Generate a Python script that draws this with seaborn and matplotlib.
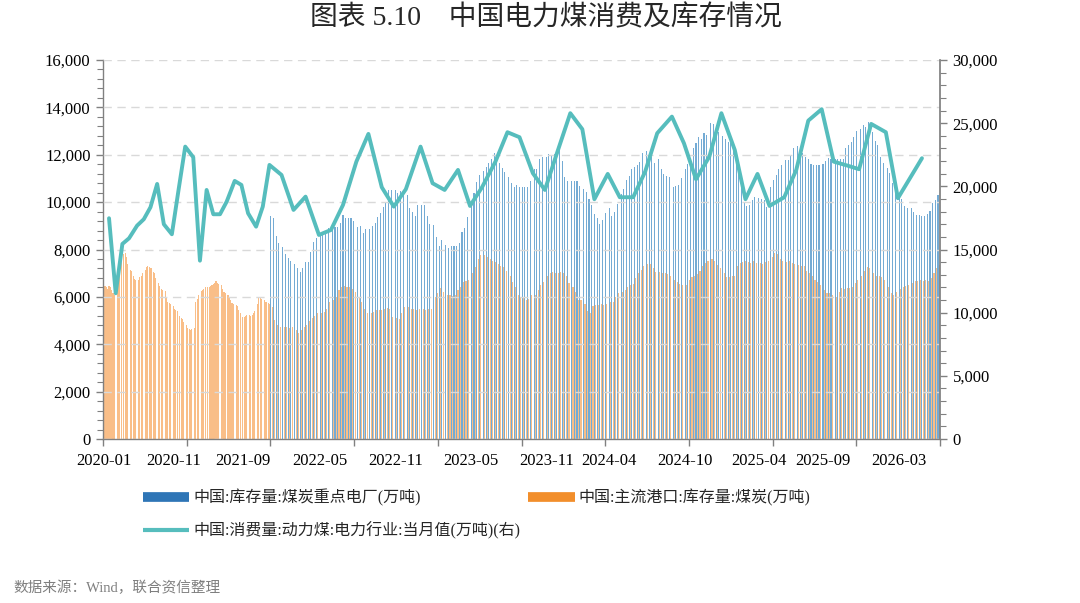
import numpy as np
import pandas as pd
import matplotlib
matplotlib.use("Agg")
import matplotlib.pyplot as plt
import seaborn as sns
from matplotlib.lines import Line2D
from matplotlib.ticker import MultipleLocator, FuncFormatter, FixedLocator

# ---------------- data ----------------
# 中国:主流港口:库存量:煤炭(万吨) — weekly (Fridays) from 2020-01-03
port_start = "2020-01-03"
port_stock = [
    # 2020
    6450, 6450, 6400, 6350, 6450,  6430, 6300, 6150, 6100,  6300, 7000, 7300, 7700,
    7800, 7850, 7700, 7400,  7130, 7100, 6900, 6750, 6710,  6700, 6850, 6900, 7000,
    7150, 7270, 7300, 7250, 7200,  7200, 7060, 7000, 6800,  6580, 6450, 6350, 6290,
    6250, 6000, 5800, 5740, 5700,  5600, 5500, 5450, 5400,  5200, 5100, 5050, 4950,
    # 2021
    4800, 4700, 4650, 4600, 4650,  4700, 5800, 5900, 6100,  6250, 6300, 6350, 6400,
    6430, 6400, 6450, 6500, 6550,  6600, 6650, 6600, 6550,  6500, 6350, 6200, 6160,
    6100, 6000, 5850, 5750, 5700,  5650, 5600, 5450, 5300,  5160, 5150, 5200, 5250,
    5230, 5200, 5250, 5300, 5400,  5700, 5950, 5950, 5900,  5850, 5800, 5780, 5740, 5700,
    # 2022
    5570, 5020, 4800, 4740,  4740, 4740, 4700, 4720,  4600, 4470, 4600, 4740,
    4800, 5000, 5100, 5200, 5300,  5310, 5350, 5500, 5800,  5870, 6000, 6300, 6430,
    6450, 6430, 6400, 6350, 6200,  6010, 5800, 5500, 5310,  5300, 5350, 5440, 5440, 5450,
    5500, 5520, 5500, 5150,  5100, 5050, 5300, 5580,  5580, 5500, 5480, 5450, 5480,
    # 2023
    5480, 5450, 5500, 5480,  6000, 6150, 6370, 6200,  6100, 6080, 6050, 6100, 6290,
    6400, 6640, 6650, 6700,  7000, 7270, 7600, 7770,  7770, 7700, 7600, 7500, 7480,
    7400, 7300, 7270, 7100,  6900, 6640, 6400, 6100,  6010, 5950, 5870, 5900, 6080,
    6100, 6300, 6500, 6640,  6900, 7020, 7050, 7020,  7000, 7050, 7020, 6900, 6600,
    # 2024
    6430, 6200, 5870, 5850,  5700, 5400, 5310, 5600,  5650, 5650, 5700, 5650, 5700,
    5800, 5800, 6000, 6150,  6200, 6300, 6400, 6500, 6550,  6800, 7000, 7130, 7300,
    7390, 7400, 7200, 7050,  7030, 7000, 7000, 6950, 6900,  6700, 6640, 6550, 6500,
    6500, 6700, 6850, 6900,  6950, 7100, 7300, 7420, 7500,  7600, 7500, 7340, 7200,
    # 2025
    7000, 6850, 6850, 6900, 6900,  7300, 7450, 7480, 7500,  7480, 7450, 7500, 7440,
    7440, 7400, 7470, 7500,  7700, 7840, 7800, 7600, 7500,  7480, 7500, 7450, 7400,
    7350, 7310, 7300, 7100,  6990, 6900, 6700, 6640, 6500,  6300, 6180, 6150, 6100,
    6010, 6200, 6360, 6350, 6360,  6380, 6400, 6600, 6710,  6900, 7100, 7270, 7200,
    # 2026
    7000, 6880, 6900, 6850, 6700,  6400, 6160, 6100, 6200,  6350, 6430, 6450, 6500,
    6600, 6680, 6650, 6700,  6680, 6700, 6650, 6800, 7000,  7200, 7340,
]

# 中国:库存量:煤炭重点电厂(万吨) — weekly (Thursdays) from 2022-01-06
plant_start = "2022-01-06"
plant_stock = [
    # 2022
    9410, 9310, 8570, 8260,  8100, 7810, 7650, 7530,  7400, 7200, 7060, 7200, 7490,
    7490, 7900, 8300, 8470,  8610, 8680, 8800, 8890,  8960, 8960, 8960, 9100, 9450,
    9310, 9310, 9310, 9200,  8960, 8990, 8680, 8850,  8850, 9000, 9130, 9380, 9530,
    9800, 9950, 10510, 10500,  10510, 10370, 10450, 10300,  10300, 9750, 9600, 9410, 9880,
    # 2023
    9880, 9880, 9400, 9070,  9030, 8540, 8150, 8400,  8190, 8060, 8150, 8150, 8150,
    8270, 8750, 8890, 9380,  9900, 10370, 10860, 11140,  11330, 11490, 11650, 11800, 12060,
    11990, 11640, 11430, 11280,  11040, 10790, 10650, 10720, 10650,  10620, 10620, 10620, 10900,
    11380, 11380, 11800, 11920,  11920, 12030, 11950, 12050, 12100,  12200, 11750, 11070, 10890,
    # 2024
    10890, 10890, 10890, 10700,  10540, 10440, 10120, 9880, 9500,  9310, 9070, 9240, 9550,
    9740, 9410, 9600, 9920,  10340, 10540, 10930, 11100, 11380,  11490, 11570, 11710, 12060,
    12170, 11990, 11920, 11640,  11800, 11380, 11190, 11100, 11070,  10650, 10700, 10720, 11000,
    11380, 11600, 11780, 12300, 12510,  12760, 12650, 12900, 12850,  13350, 13300, 13250, 12970,
    # 2025
    12790, 12650, 12550, 12510, 12200,  11780, 11490, 10650, 9950,  9840, 9880, 10090, 10230,
    10160, 10120, 10100, 9810,  10650, 10930, 11140, 11400, 11570,  11780, 11780, 11990, 12270,
    12370, 12200, 12090, 11900, 11800,  11610, 11570, 11570, 11570,  11600, 11730, 11850, 11800,
    11800, 11800, 11820, 11800, 12270,  12400, 12550, 12760, 13010,  13070, 13250, 13180, 13390,
    # 2026
    12970, 12590, 12410, 11890, 11640,  11430, 11220, 10790, 10440,  10300, 10120, 9840, 9740,
    9740, 9600, 9460, 9460, 9410,  9410, 9500, 9640, 9950,  10100, 10300,
]

# 中国:消费量:动力煤:电力行业:当月值(万吨) — monthly from 2020-01
consumption_start = "2020-01-31"
consumption = [
    17475, 11536, 15440, 15890, 16890, 17395, 18345, 20190, 17000, 16207, 19715, 23143,
    22304, 14117, 19715, 17790, 17790, 18789, 20428, 20111, 17870, 16810, 18393, 21694,
    20903, 18132, 19185, 16152, 16548, 18527, 21955, 24149, 19929, 18393, 19770, 23143,
    20245, 19715, 21298, 18448, 19929, 21955, 24283, 23888, 21037, 19715, 22620, 25788,
    24521, 18979, 20982, 19137, 19137, 21164, 24204, 25519, 23410, 20560, 22352, 25788,
    22882, 18979, 20982, 18448, 19137, 21298, 25202, 26105, 21955, 21650, 21354, 24941,
    24283, 19058, 20640, 22225,
]

x_labels = ["2020-01", "2020-11", "2021-09", "2022-05", "2022-11", "2023-05",
            "2023-11", "2024-04", "2024-10", "2025-04", "2025-09", "2026-03"]

name_plant = "中国:库存量:煤炭重点电厂(万吨)"
name_port = "中国:主流港口:库存量:煤炭(万吨)"
name_cons = "中国:消费量:动力煤:电力行业:当月值(万吨)(右)"

# ---------------- category axis ----------------
port_dates = pd.date_range(port_start, periods=len(port_stock), freq="7D")
plant_dates = pd.date_range(plant_start, periods=len(plant_stock), freq="7D")
cons_dates = pd.date_range(consumption_start, periods=len(consumption), freq="ME")
cats = sorted(set(port_dates) | set(plant_dates) | set(cons_dates))
pos = {d: i for i, d in enumerate(cats)}
N = len(cats)

bars = pd.concat([
    pd.DataFrame({"pos": [pos[d] for d in port_dates], "value": port_stock, "series": name_port}),
    pd.DataFrame({"pos": [pos[d] for d in plant_dates], "value": plant_stock, "series": name_plant}),
], ignore_index=True)
line_df = pd.DataFrame({"pos": [pos[d] for d in cons_dates], "value": consumption})

label_pos = []
for lab in x_labels:
    p = pd.Period(lab, freq="M")
    first = next(d for d in cats if pd.Period(d, freq="M") == p)
    label_pos.append(pos[first])

# ---------------- style ----------------
sns.set_theme(style="white")
plt.rcParams["font.family"] = ["Liberation Serif", "Noto Sans CJK SC"]
plt.rcParams["axes.unicode_minus"] = False

C_PLANT = "#2E75B6"
C_PORT = "#F28E2B"
C_LINE = "#56BDBD"
GRAY = "#808080"

fig = plt.figure(figsize=(10.8, 6.03), dpi=100)
ax = fig.add_axes([103 / 1080, 1 - 439 / 603, (940 - 103) / 1080, (439 - 60) / 603])

sns.barplot(data=bars, x="pos", y="value", hue="series",
            palette={name_port: "#F9BE88", name_plant: "#74ABD4"},
            saturation=1, native_scale=True, dodge=False, width=0.8, linewidth=0,
            errorbar=None, legend=False, ax=ax)

ax.set_xlim(-0.5, N - 0.5)
ax.set_ylim(0, 16000)
ax.yaxis.set_major_locator(MultipleLocator(2000))
ax.yaxis.set_minor_locator(MultipleLocator(400))
ax.yaxis.set_major_formatter(FuncFormatter(lambda v, p: f"{v:,.0f}"))
ax.set_xticks(label_pos)
ax.set_xticklabels(x_labels)
ax.xaxis.set_minor_locator(FixedLocator(np.linspace(-0.5, N - 0.5, 11)))
ax.set_xlabel("")
ax.set_ylabel("")
ax.grid(axis="y", which="major", color="#D9D9D9", linestyle=(0, (6, 4)), linewidth=1)
ax.grid(axis="x", visible=False)
ax.set_axisbelow(False)
for s in ["top", "right"]:
    ax.spines[s].set_visible(False)
for s in ["left", "bottom"]:
    ax.spines[s].set_color(GRAY)
    ax.spines[s].set_linewidth(1)
ax.tick_params(axis="y", which="major", direction="out", length=5, width=1, color=GRAY,
               labelsize=12, labelcolor="#000000", left=True, pad=4)
ax.tick_params(axis="y", which="minor", direction="out", length=4, width=0.8, color=GRAY, left=True)
ax.tick_params(axis="x", which="major", length=0, labelsize=12, labelcolor="#000000", pad=10)
ax.tick_params(axis="x", which="minor", direction="out", length=5, width=1, color=GRAY, bottom=True)

ax2 = ax.twinx()
sns.lineplot(data=line_df, x="pos", y="value", color=C_LINE, linewidth=2.8, ax=ax2,
             legend=False)
ax2.set_ylim(0, 30000)
ax2.set_xlim(-0.5, N - 0.5)
ax2.yaxis.set_major_locator(MultipleLocator(5000))
ax2.yaxis.set_minor_locator(MultipleLocator(1000))
ax2.yaxis.set_major_formatter(FuncFormatter(lambda v, p: f"{v:,.0f}"))
ax2.set_ylabel("")
ax2.set_xlabel("")
ax2.grid(False)
for s in ["top", "left", "bottom"]:
    ax2.spines[s].set_visible(False)
ax2.spines["right"].set_color(GRAY)
ax2.tick_params(axis="y", which="major", direction="out", length=5, width=1, color=GRAY,
                labelsize=12, labelcolor="#000000", right=True, pad=4)
ax2.tick_params(axis="y", which="minor", direction="out", length=4, width=0.8, color=GRAY, right=True)

# ---------------- legend / texts ----------------
handles = [Line2D([], [], color=C_PLANT, lw=7, solid_capstyle="butt"),
           Line2D([], [], color=C_LINE, lw=3, solid_capstyle="butt"),
           Line2D([], [], color=C_PORT, lw=7, solid_capstyle="butt")]
labels = [name_plant, name_cons, name_port]
fig.legend(handles, labels, ncol=2, loc="upper left", bbox_to_anchor=(0.119, 0.212),
           frameon=False, fontsize=11.5, handlelength=2.9, handletextpad=0.25,
           columnspacing=0.5, labelspacing=0.95)

fig.text(0.505, 1 - 18 / 603, "图表 5.10　中国电力煤消费及库存情况", ha="center", va="center",
         fontsize=20)
fig.text(13 / 1080, 1 - 588 / 603, "数据来源：Wind，联合资信整理", ha="left", va="center",
         fontsize=10.5, color="#7F7F7F")

fig.savefig("out.png", dpi=100)
